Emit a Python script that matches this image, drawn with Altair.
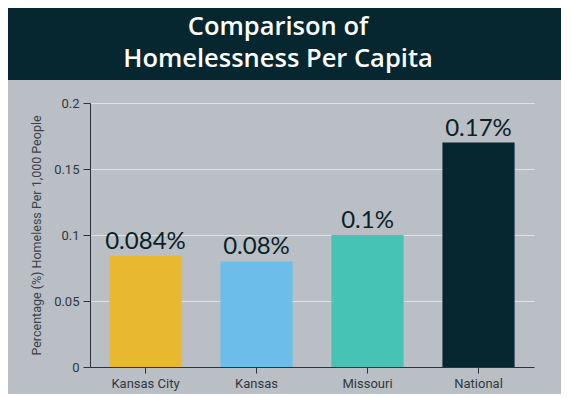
import altair as alt
import pandas as pd

categories = ["Kansas City", "Kansas", "Missouri", "National"]
values = [0.084, 0.08, 0.1, 0.17]
labels = ["0.084%", "0.08%", "0.1%", "0.17%"]
colors = ["#e8b830", "#6cbdea", "#46c3b3", "#062630"]
y_ticks = [0, 0.05, 0.1, 0.15, 0.2]
title_lines = ["Comparison of", "Homelessness Per Capita"]
y_title = "Percentage (%) Homeless Per 1,000 People"

df = pd.DataFrame({"region": categories, "value": values, "label": labels})

W, H = 444, 264
L, T, R, B = 82, 95, 27, 27

header = alt.Chart(pd.DataFrame({"a": [0]})).mark_rect(color="#062630").encode(
    x=alt.value(-L), x2=alt.value(W + R), y=alt.value(-T), y2=alt.value(-T + 72)
)

title_layers = []
for line, ypos in zip(title_lines, [-76, -44]):
    title_layers.append(
        alt.Chart(pd.DataFrame({"t": [line]})).mark_text(
            font="Open Sans", fontSize=25.5, fontWeight=600, color="white",
            align="center", baseline="middle",
        ).encode(text="t:N", x=alt.value(188), y=alt.value(ypos))
    )

x = alt.X(
    "region:N",
    sort=categories,
    scale=alt.Scale(paddingInner=0.35, paddingOuter=0.175),
    axis=alt.Axis(
        title=None, labelAngle=0, labelFont="Roboto", labelFontSize=13,
        labelColor="#30393e", labelPadding=4, tickSize=6, tickColor="#2b3439",
        domainColor="#2b3439", grid=False,
    ),
)
y = alt.Y(
    "value:Q",
    scale=alt.Scale(domain=[0, 0.2]),
    axis=alt.Axis(
        values=y_ticks, format="~g", title=y_title, titleFont="Roboto",
        titleFontSize=12.5, titleFontWeight="normal", titleColor="#3a4347",
        titlePadding=10, labelFont="Roboto", labelFontSize=13, labelColor="#30393e",
        labelPadding=4, tickSize=7, tickColor="#2b3439", domainColor="#2b3439",
        grid=True, gridColor="#dfe2e5", gridWidth=1,
    ),
)

base = alt.Chart(df)
bars = base.mark_bar().encode(
    x=x, y=y,
    color=alt.Color("region:N", scale=alt.Scale(domain=categories, range=colors), legend=None),
)
text = base.mark_text(baseline="alphabetic", dy=-7, fontSize=24, font="Lato", color="#0b1f27").encode(
    x=x, y=y, text="label:N"
)

chart = alt.layer(header, *title_layers, bars, text).properties(
    width=W, height=H,
    autosize=alt.AutoSizeParams(type="none"),
    padding={"left": L, "top": T, "right": R, "bottom": B},
).configure(background="#b9bfc5").configure_view(stroke=None)

chart.save("out.html", embed_options={"renderer": "svg", "actions": False})
